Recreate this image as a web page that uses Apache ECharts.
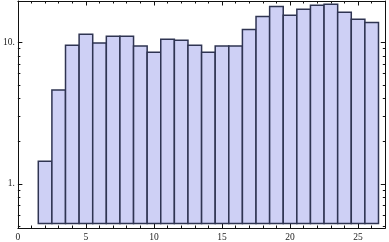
<!DOCTYPE html>
<html>
<head>
<meta charset="utf-8">
<script src="https://cdn.jsdelivr.net/npm/echarts@6/dist/echarts.min.js"></script>
<style>html,body{margin:0;padding:0;background:#fff;}#c{width:389px;height:242px;}</style>
</head>
<body>
<div id="c"></div>
<script>
// Bin centers (x) and bar heights (log-scaled y)
var binCenters = [2,3,4,5,6,7,8,9,10,11,12,13,14,15,16,17,18,19,20,21,22,23,24,25,26];
var binValues = [1.44,4.6,9.5,11.4,9.85,11.0,11.0,9.4,8.5,10.5,10.3,9.5,8.5,9.4,9.4,12.3,15.2,17.9,15.5,17.1,18.2,18.5,16.3,14.5,13.8];
var barBase = 0.525;
var xMajorTicks = [0,5,10,15,20,25];
var xMinorTicks = [1,2,3,4,6,7,8,9,11,12,13,14,16,17,18,19,21,22,23,24,26];
var yMajorTicks = [1,10];
var yMinorTicks = [0.5,0.6,0.7,0.8,0.9,2,3,4,5,6,7,8,9];
var xRange = [0, 27];
var yRange = [0.487, 19.54];

var chart = echarts.init(document.getElementById('c'), null, {renderer:'canvas'});
var fontFam = '"Liberation Serif", "DejaVu Serif", serif';
var frameColor = '#111';

function xAx(pos, ticks, len, labels, line) {
  return {
    type:'value', position:pos, min:xRange[0], max:xRange[1],
    axisLine:{show:line, onZero:false, lineStyle:{color:frameColor, width:1}},
    axisTick:{show:true, inside:true, length:len, customValues:ticks, lineStyle:{color:frameColor, width:1}},
    axisLabel:{show:labels, customValues:ticks, margin:4, fontFamily:fontFam, fontSize:9.5, color:'#222'},
    splitLine:{show:false}
  };
}
function yAx(pos, ticks, len, labels, line) {
  return {
    type:'log', position:pos, min:yRange[0], max:yRange[1], logBase:10,
    axisLine:{show:line, onZero:false, lineStyle:{color:frameColor, width:1}},
    axisTick:{show:true, inside:true, length:len, customValues:ticks, lineStyle:{color:frameColor, width:1}},
    axisLabel:{show:labels, customValues:ticks, margin:3, fontFamily:fontFam, fontSize:9.5, color:'#222',
      formatter:function(v){return v + '.';}},
    splitLine:{show:false}, minorTick:{show:false}
  };
}

var data = binCenters.map(function(x,i){return [x, binValues[i]];});

chart.setOption({
  animation:false,
  grid:{left:16, right:3.7, top:1, bottom:13.3, containLabel:false},
  xAxis:[
    xAx('bottom', xMajorTicks, 4.5, true, true),
    xAx('bottom', xMinorTicks, 2.5, false, false),
    xAx('top', xMajorTicks, 4.5, false, true),
    xAx('top', xMinorTicks, 2.5, false, false)
  ],
  yAxis:[
    yAx('left', yMajorTicks, 4.5, true, true),
    yAx('left', yMinorTicks, 2.5, false, false),
    yAx('right', yMajorTicks, 4.5, false, true),
    yAx('right', yMinorTicks, 2.5, false, false)
  ],
  series:[{
    type:'custom', xAxisIndex:0, yAxisIndex:0, data:data,
    renderItem:function(params, api){
      var x = api.value(0), y = api.value(1);
      var p1 = api.coord([x-0.5, y]);
      var p2 = api.coord([x+0.5, barBase]);
      return {type:'rect', shape:{x:p1[0], y:p1[1], width:p2[0]-p1[0], height:p2[1]-p1[1]},
        style:{fill:'rgb(206,208,245)', stroke:'#2f3452', lineWidth:1.5}};
    }
  }]
});
</script>
</body>
</html>
